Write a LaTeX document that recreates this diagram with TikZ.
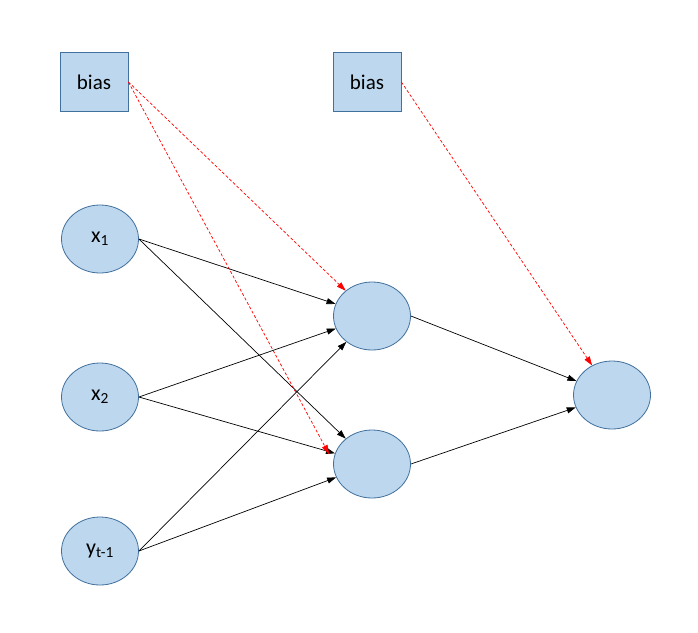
\documentclass[tikz,border=0pt]{standalone}
\usepackage{fontspec}
\setmainfont{Carlito}
\usetikzlibrary{shapes,arrows.meta,positioning}
\definecolor{nodefill}{HTML}{BDD7EE}
\definecolor{nodeline}{HTML}{41719C}

\begin{document}
\begin{tikzpicture}[x=1pt,y=-1pt,
    neuron/.style={ellipse,draw=nodeline,fill=nodefill,line width=0.8pt,minimum width=77pt,minimum height=68pt,inner sep=0pt,font=\fontsize{22}{24}\selectfont},
    biasbox/.style={rectangle,draw=nodeline,fill=nodefill,line width=0.8pt,minimum width=68pt,minimum height=59pt,inner sep=0pt,font=\fontsize{21}{24}\selectfont},
    weight/.style={-{Triangle[length=9pt,width=6pt]},line width=0.7pt},
    biasline/.style={-{Triangle[length=9pt,width=6pt]},red,line width=0.7pt,dash pattern=on 3pt off 2pt}]
    \useasboundingbox (0,0) rectangle (698,632);

    \node[biasbox] (b1) at (94,82) {bias};
    \node[biasbox] (b2) at (367,82) {bias};

    \node[neuron] (x1) at (100,239) {x\textsubscript{1}};
    \node[neuron] (x2) at (100,397) {x\textsubscript{2}};
    \node[neuron] (y) at (100,551) {y\textsubscript{t-1}};

    \node[neuron] (h1) at (372,316) {};
    \node[neuron] (h2) at (372,464) {};
    \node[neuron] (out) at (612,395) {};
    \coordinate (b1end) at (329,454);

    \draw[weight] (x1.east) -- (h1);
    \draw[weight] (x1.east) -- (h2);
    \draw[weight] (x2.east) -- (h1);
    \draw[weight] (x2.east) -- (h2);
    \draw[weight] (y.east) -- (h1);
    \draw[weight] (y.east) -- (h2);
    \draw[weight] (h1.east) -- (out);
    \draw[weight] (h2.east) -- (out);

    \draw[biasline] (b1.east) -- (h1);
    \draw[biasline] (b1.east) -- (b1end);
    \draw[biasline] (b2.east) -- (out);
\end{tikzpicture}
\end{document}
